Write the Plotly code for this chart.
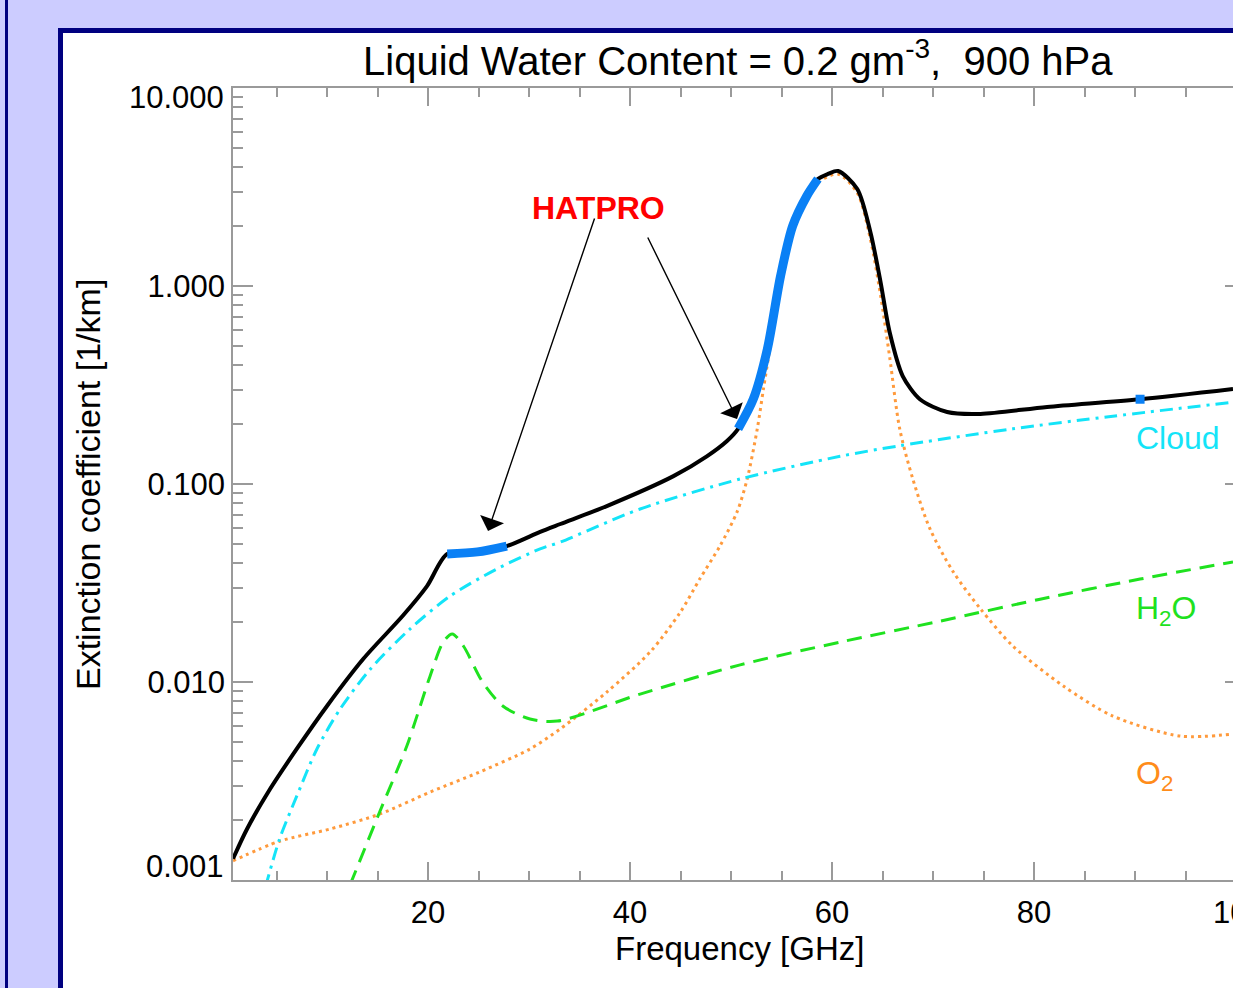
import plotly.graph_objects as go
import numpy as np

# ---------------- data ----------------
freq_total = [0.69, 2.08, 4.36, 7.0, 10.0, 13.6, 17.5, 19.9, 21.9, 24.9, 27.8, 31.1, 33.1, 37.7,
              44.3, 47.6, 49.6, 50.7, 52.2, 53.6, 54.9, 56.1, 57.5, 58.6, 59.6, 60.6, 62.5, 63.8,
              64.8, 65.7, 67.0, 68.7, 71.4, 74.7, 81.3, 90.5, 99.7]
ext_total = [0.00128, 0.00181, 0.00288, 0.00459, 0.00757, 0.0131, 0.0216, 0.0305, 0.0443, 0.0454,
             0.0486, 0.0573, 0.0628, 0.0774, 0.1096, 0.138, 0.165, 0.190, 0.268, 0.481, 1.12, 2.01,
             2.85, 3.47, 3.68, 3.81, 3.09, 1.87, 1.05, 0.586, 0.351, 0.268, 0.231, 0.226, 0.245,
             0.268, 0.302]

freq_cloud = [3.9, 5.3, 7.0, 9.0, 11.3, 14.3, 18.2, 22.2, 26.8, 31.1, 33.1, 41.0, 50.9, 60.8,
              66.7, 77.9, 87.8, 99.7]
ext_cloud = [0.00092, 0.00161, 0.00265, 0.00459, 0.00731, 0.01164, 0.0185, 0.0272, 0.0372, 0.047,
             0.0509, 0.0748, 0.106, 0.138, 0.156, 0.190, 0.220, 0.259]

freq_h2o = [12.3, 15.2, 17.9, 20.2, 21.5, 22.4, 23.5, 25.4, 27.4, 30.1, 32.8, 41.0, 50.9, 60.8,
            70.7, 80.6, 90.5, 99.7]
ext_h2o = [0.00095, 0.0022, 0.00475, 0.0107, 0.0159, 0.0175, 0.0152, 0.0100, 0.00757, 0.0065,
           0.00635, 0.00869, 0.0122, 0.0159, 0.0203, 0.0262, 0.0331, 0.0404]

freq_o2 = [0.69, 5.3, 10.3, 15.2, 20.2, 25.1, 30.1, 33.1, 37.7, 42.0, 45.0, 46.9, 48.9, 50.6, 51.6,
           52.6, 53.2, 53.9, 54.9, 56.1, 57.5, 58.6, 60.6, 62.5, 63.8, 64.8, 65.7, 66.7, 68.0, 69.7,
           72.0, 74.7, 77.9, 82.9, 87.8, 94.5, 99.7]
ext_o2 = [0.00125, 0.00157, 0.00181, 0.00215, 0.00278, 0.00351, 0.00459, 0.0058, 0.0089, 0.0142,
          0.0226, 0.0331, 0.0486, 0.0723, 0.106, 0.19, 0.3, 0.5, 0.98, 1.87, 2.7, 3.33, 3.67, 2.95,
          1.72, 0.9, 0.44, 0.19, 0.106, 0.0593, 0.036, 0.0234, 0.0152, 0.00955, 0.00673, 0.00533,
          0.00546]

# HATPRO bands (GHz) highlighted on the total curve
hatpro_bands = [(21.9, 27.8), (50.7, 58.6)]
hatpro_w_freq = [90.5]
hatpro_w_ext = [0.268]

y_tickvals = [0.001, 0.01, 0.1, 1, 10]
y_ticktext = ["0.001", "0.010", "0.100", "1.000", "10.000"]
x_tickvals = [20, 40, 60, 80, 100]
x_ticktext = ["20", "40", "60", "80", "100"]
x_minor = [5, 10, 15, 25, 30, 35, 45, 50, 55, 65, 70, 75, 85, 90, 95]
y_minor = [m * 10.0 ** e for e in range(-3, 1) for m in range(2, 10)]

# ---------------- figure ----------------
W, H = 1233, 988
FONT = "Liberation Sans, Arial, Helvetica, sans-serif"
AX = "#9a9a9a"
SM = 0.8

def px(x):
    return x / W

def py(y):
    return 1 - y / H

fig = go.Figure()

fig.add_trace(go.Scatter(x=freq_o2, y=ext_o2, mode="lines",
                         line=dict(color="#ff9a3c", width=3, dash="3px,4px", shape="spline", smoothing=SM)))
fig.add_trace(go.Scatter(x=freq_h2o, y=ext_h2o, mode="lines",
                         line=dict(color="#1fe21f", width=3, dash="15px,9px", shape="spline", smoothing=SM)))
fig.add_trace(go.Scatter(x=freq_cloud, y=ext_cloud, mode="lines",
                         line=dict(color="#14e4f8", width=3, dash="13px,6px,3px,6px", shape="spline",
                                   smoothing=SM)))
fig.add_trace(go.Scatter(x=freq_total, y=ext_total, mode="lines",
                         line=dict(color="black", width=4, shape="spline", smoothing=SM)))

ft = np.array(freq_total)
et = np.array(ext_total)
for lo, hi in hatpro_bands:
    m = (ft >= lo - 1e-9) & (ft <= hi + 1e-9)
    fig.add_trace(go.Scatter(x=ft[m], y=et[m], mode="lines",
                             line=dict(color="#0a80f5", width=9, shape="spline", smoothing=SM)))
fig.add_trace(go.Scatter(x=hatpro_w_freq, y=hatpro_w_ext, mode="markers",
                         marker=dict(symbol="square", size=9, color="#0a80f5")))

x0 = 0.69
x1 = x0 + (W - 233) / 10.1

# end labels of the y axis are drawn shifted inward (as in the original), the rest as tick labels
y_ticktext_axis = [""] + y_ticktext[1:-1] + [""]

fig.update_layout(
    width=W, height=H,
    margin=dict(l=0, r=0, t=0, b=0),
    paper_bgcolor="#ccccff",
    plot_bgcolor="white",
    showlegend=False,
    font=dict(family=FONT, color="black"),
    xaxis=dict(
        domain=[233 / W, 1], range=[x0, x1], type="linear",
        showgrid=False, zeroline=False, showline=True, linecolor=AX, linewidth=1.5,
        mirror="ticks", ticks="inside", ticklen=18, tickwidth=1.5, tickcolor=AX,
        tickmode="array", tickvals=x_tickvals, ticktext=x_ticktext,
        tickfont=dict(size=31, family=FONT), ticklabelstandoff=4,
        minor=dict(tickmode="array", tickvals=x_minor, ticks="inside", ticklen=9,
                   tickwidth=1.5, tickcolor=AX, showgrid=False),
        automargin=False,
    ),
    yaxis=dict(
        domain=[py(880), py(88)], type="log", range=[-3, 1],
        showgrid=False, zeroline=False, showline=True, linecolor=AX, linewidth=1.5,
        mirror=False, ticks="inside", ticklen=20, tickwidth=1.5, tickcolor=AX,
        tickmode="array", tickvals=y_tickvals, ticktext=y_ticktext_axis,
        tickfont=dict(size=31, family=FONT), ticklabelstandoff=0,
        minor=dict(tickmode="array", tickvals=y_minor, ticks="inside", ticklen=10,
                   tickwidth=1.5, tickcolor=AX, showgrid=False),
        automargin=False,
    ),
    yaxis2=dict(
        overlaying="y", side="right", type="log", range=[-3, 1],
        showgrid=False, zeroline=False, showline=False,
        ticks="inside", ticklen=8, tickwidth=1.5, tickcolor=AX,
        tickmode="array", tickvals=y_tickvals, showticklabels=False,
        automargin=False,
    ),
)

# invisible trace to activate yaxis2 (right-hand tick marks)
fig.add_trace(go.Scatter(x=[50], y=[1], yaxis="y2", mode="markers",
                         marker=dict(opacity=0), hoverinfo="skip"))

shapes = [
    dict(type="rect", xref="paper", yref="paper", x0=px(60.5), x1=px(1300), y0=py(1100), y1=py(30.5),
         fillcolor="white", line=dict(color="#000080", width=5), layer="below"),
    dict(type="line", xref="paper", yref="paper", x0=px(6.5), x1=px(6.5), y0=0, y1=1,
         line=dict(color="#000080", width=3), layer="below"),
]
fig.update_layout(shapes=shapes)

ann = []
ann.append(dict(text="Liquid Water Content = 0.2 gm<sup>-3</sup>,  900 hPa", xref="paper", yref="paper",
                x=px(738), y=py(58), xanchor="center", yanchor="middle", showarrow=False,
                font=dict(size=40, family=FONT, color="black")))
ann.append(dict(text="Frequency [GHz]", xref="paper", yref="paper", x=px(739), y=py(948),
                xanchor="center", yanchor="middle", showarrow=False,
                font=dict(size=33, family=FONT, color="black")))
ann.append(dict(text="Extinction coefficient [1/km]", xref="paper", yref="paper", x=px(88), y=py(485),
                xanchor="center", yanchor="middle", showarrow=False, textangle=-90,
                font=dict(size=34, family=FONT, color="black")))
ann.append(dict(text=y_ticktext[-1], xref="paper", yref="paper", x=px(226), y=py(98),
                xanchor="right", yanchor="middle", showarrow=False,
                font=dict(size=31, family=FONT, color="black")))
ann.append(dict(text=y_ticktext[0], xref="paper", yref="paper", x=px(226), y=py(866),
                xanchor="right", yanchor="middle", showarrow=False,
                font=dict(size=31, family=FONT, color="black")))
ann.append(dict(text=x_ticktext[-1], xref="paper", yref="paper", x=px(1239), y=py(912),
                xanchor="center", yanchor="middle", showarrow=False,
                font=dict(size=31, family=FONT, color="black")))
ann.append(dict(text="Cloud", xref="paper", yref="paper", x=px(1134), y=py(438),
                xanchor="left", yanchor="middle", showarrow=False,
                font=dict(size=32, family=FONT, color="#14e4f8")))
ann.append(dict(text="H<sub>2</sub>O", xref="paper", yref="paper", x=px(1134), y=py(610),
                xanchor="left", yanchor="middle", showarrow=False,
                font=dict(size=32, family=FONT, color="#1fe21f")))
ann.append(dict(text="O<sub>2</sub>", xref="paper", yref="paper", x=px(1134), y=py(775),
                xanchor="left", yanchor="middle", showarrow=False,
                font=dict(size=32, family=FONT, color="#ff8c1a")))
ann.append(dict(text="<b>HATPRO</b>", xref="paper", yref="paper", x=px(598), y=py(208),
                xanchor="center", yanchor="middle", showarrow=False,
                font=dict(size=32, family=FONT, color="#ff0000")))
# arrows (tip in data coords, tail offset in pixels)
ann.append(dict(text="", x=(488 - 226) / 10.1, y=1 - (532 - 89) / 198, xref="x", yref="y",
                ax=595 - 488, ay=218 - 532, showarrow=True, arrowhead=1, arrowsize=3,
                arrowwidth=1.4, arrowcolor="black"))
ann.append(dict(text="", x=(737 - 226) / 10.1, y=1 - (420 - 89) / 198, xref="x", yref="y",
                ax=647 - 737, ay=237 - 420, showarrow=True, arrowhead=1, arrowsize=3,
                arrowwidth=1.4, arrowcolor="black"))
fig.update_layout(annotations=ann)

fig.write_html("out.html", config={"displayModeBar": False},
               post_script="document.body.style.margin='0';document.body.style.overflow='hidden';")
